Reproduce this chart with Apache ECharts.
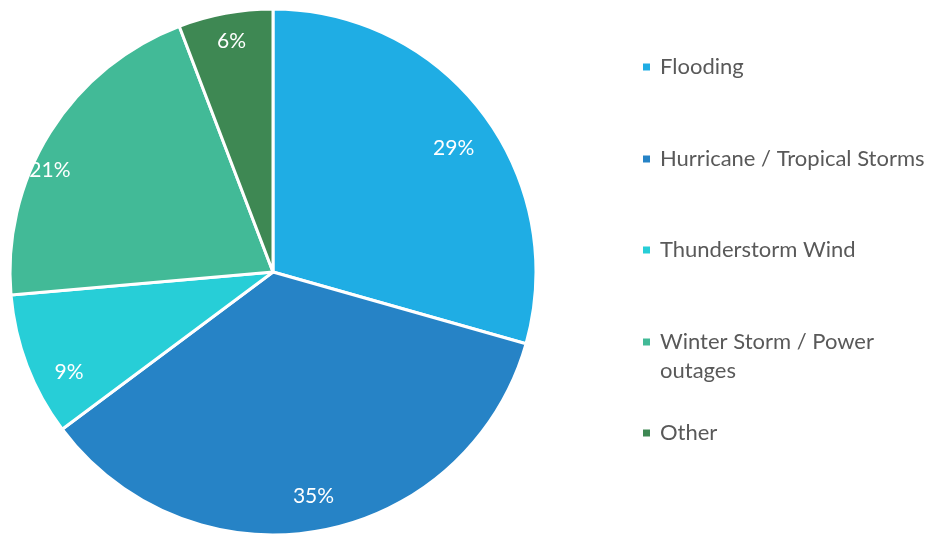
<!DOCTYPE html>
<html><head><meta charset="utf-8">
<script src="https://cdn.jsdelivr.net/npm/echarts@6/dist/echarts.min.js"></script>
<style>html,body{margin:0;padding:0;background:#fff}#c{width:930px;height:536px}</style>
</head><body><div id="c"></div>
<script>
const categories = ['Flooding', 'Hurricane / Tropical Storms', 'Thunderstorm Wind', 'Winter Storm / Power outages', 'Other'];
const values = [29.4, 35.4, 8.8, 20.6, 5.8];
const colors = ['#1FADE4', '#2683C6', '#27CED7', '#42BA97', '#3E8853'];
const legendTops = [67, 159, 250, 342, 433];
const labelNudge = [[-2, 14], [-1, -1], [10, 19], [-29, 20], [0, -6]];

const total = values.reduce((a, b) => a + b, 0);
const font = 'Lato, "Open Sans", sans-serif';
const LH = 29;

const legends = categories.map((n, i) => {
  const multi = n.indexOf('Power') >= 0;
  return {
    orient: 'vertical',
    left: 641,
    top: legendTops[i] - (multi ? LH * 1.5 : LH / 2),
    padding: 0,
    data: [n],
    icon: 'rect',
    itemWidth: 9,
    itemHeight: 9,
    itemGap: 0,
    selectedMode: false,
    formatter: multi ? '\nWinter Storm / Power\noutages' : '{name}',
    textStyle: { fontFamily: font, fontSize: 22, color: '#595959', lineHeight: LH, padding: [0, 0, 0, 4] }
  };
});

const chart = echarts.init(document.getElementById('c'));
chart.setOption({
  animation: false,
  legend: legends,
  series: [
    {
      type: 'pie', center: [273, 272], radius: [0, 263], startAngle: 90, clockwise: true,
      silent: true,
      itemStyle: { borderColor: '#fff', borderWidth: 3 },
      label: { show: false }, labelLine: { show: false },
      data: categories.map((n, i) => ({ name: n, value: values[i], itemStyle: { color: colors[i] } }))
    },
    {
      type: 'pie', center: [273, 272], radius: [189, 263], startAngle: 90, clockwise: true,
      silent: true,
      itemStyle: { color: 'rgba(0,0,0,0)', borderWidth: 0 },
      label: {
        show: true, position: 'inside', color: '#fff', fontFamily: font, fontSize: 21,
        formatter: p => Math.round(p.value / total * 100) + '%'
      },
      labelLine: { show: false },
      data: categories.map((n, i) => ({ name: n, value: values[i], label: { offset: labelNudge[i] } }))
    }
  ]
});
</script></body></html>
